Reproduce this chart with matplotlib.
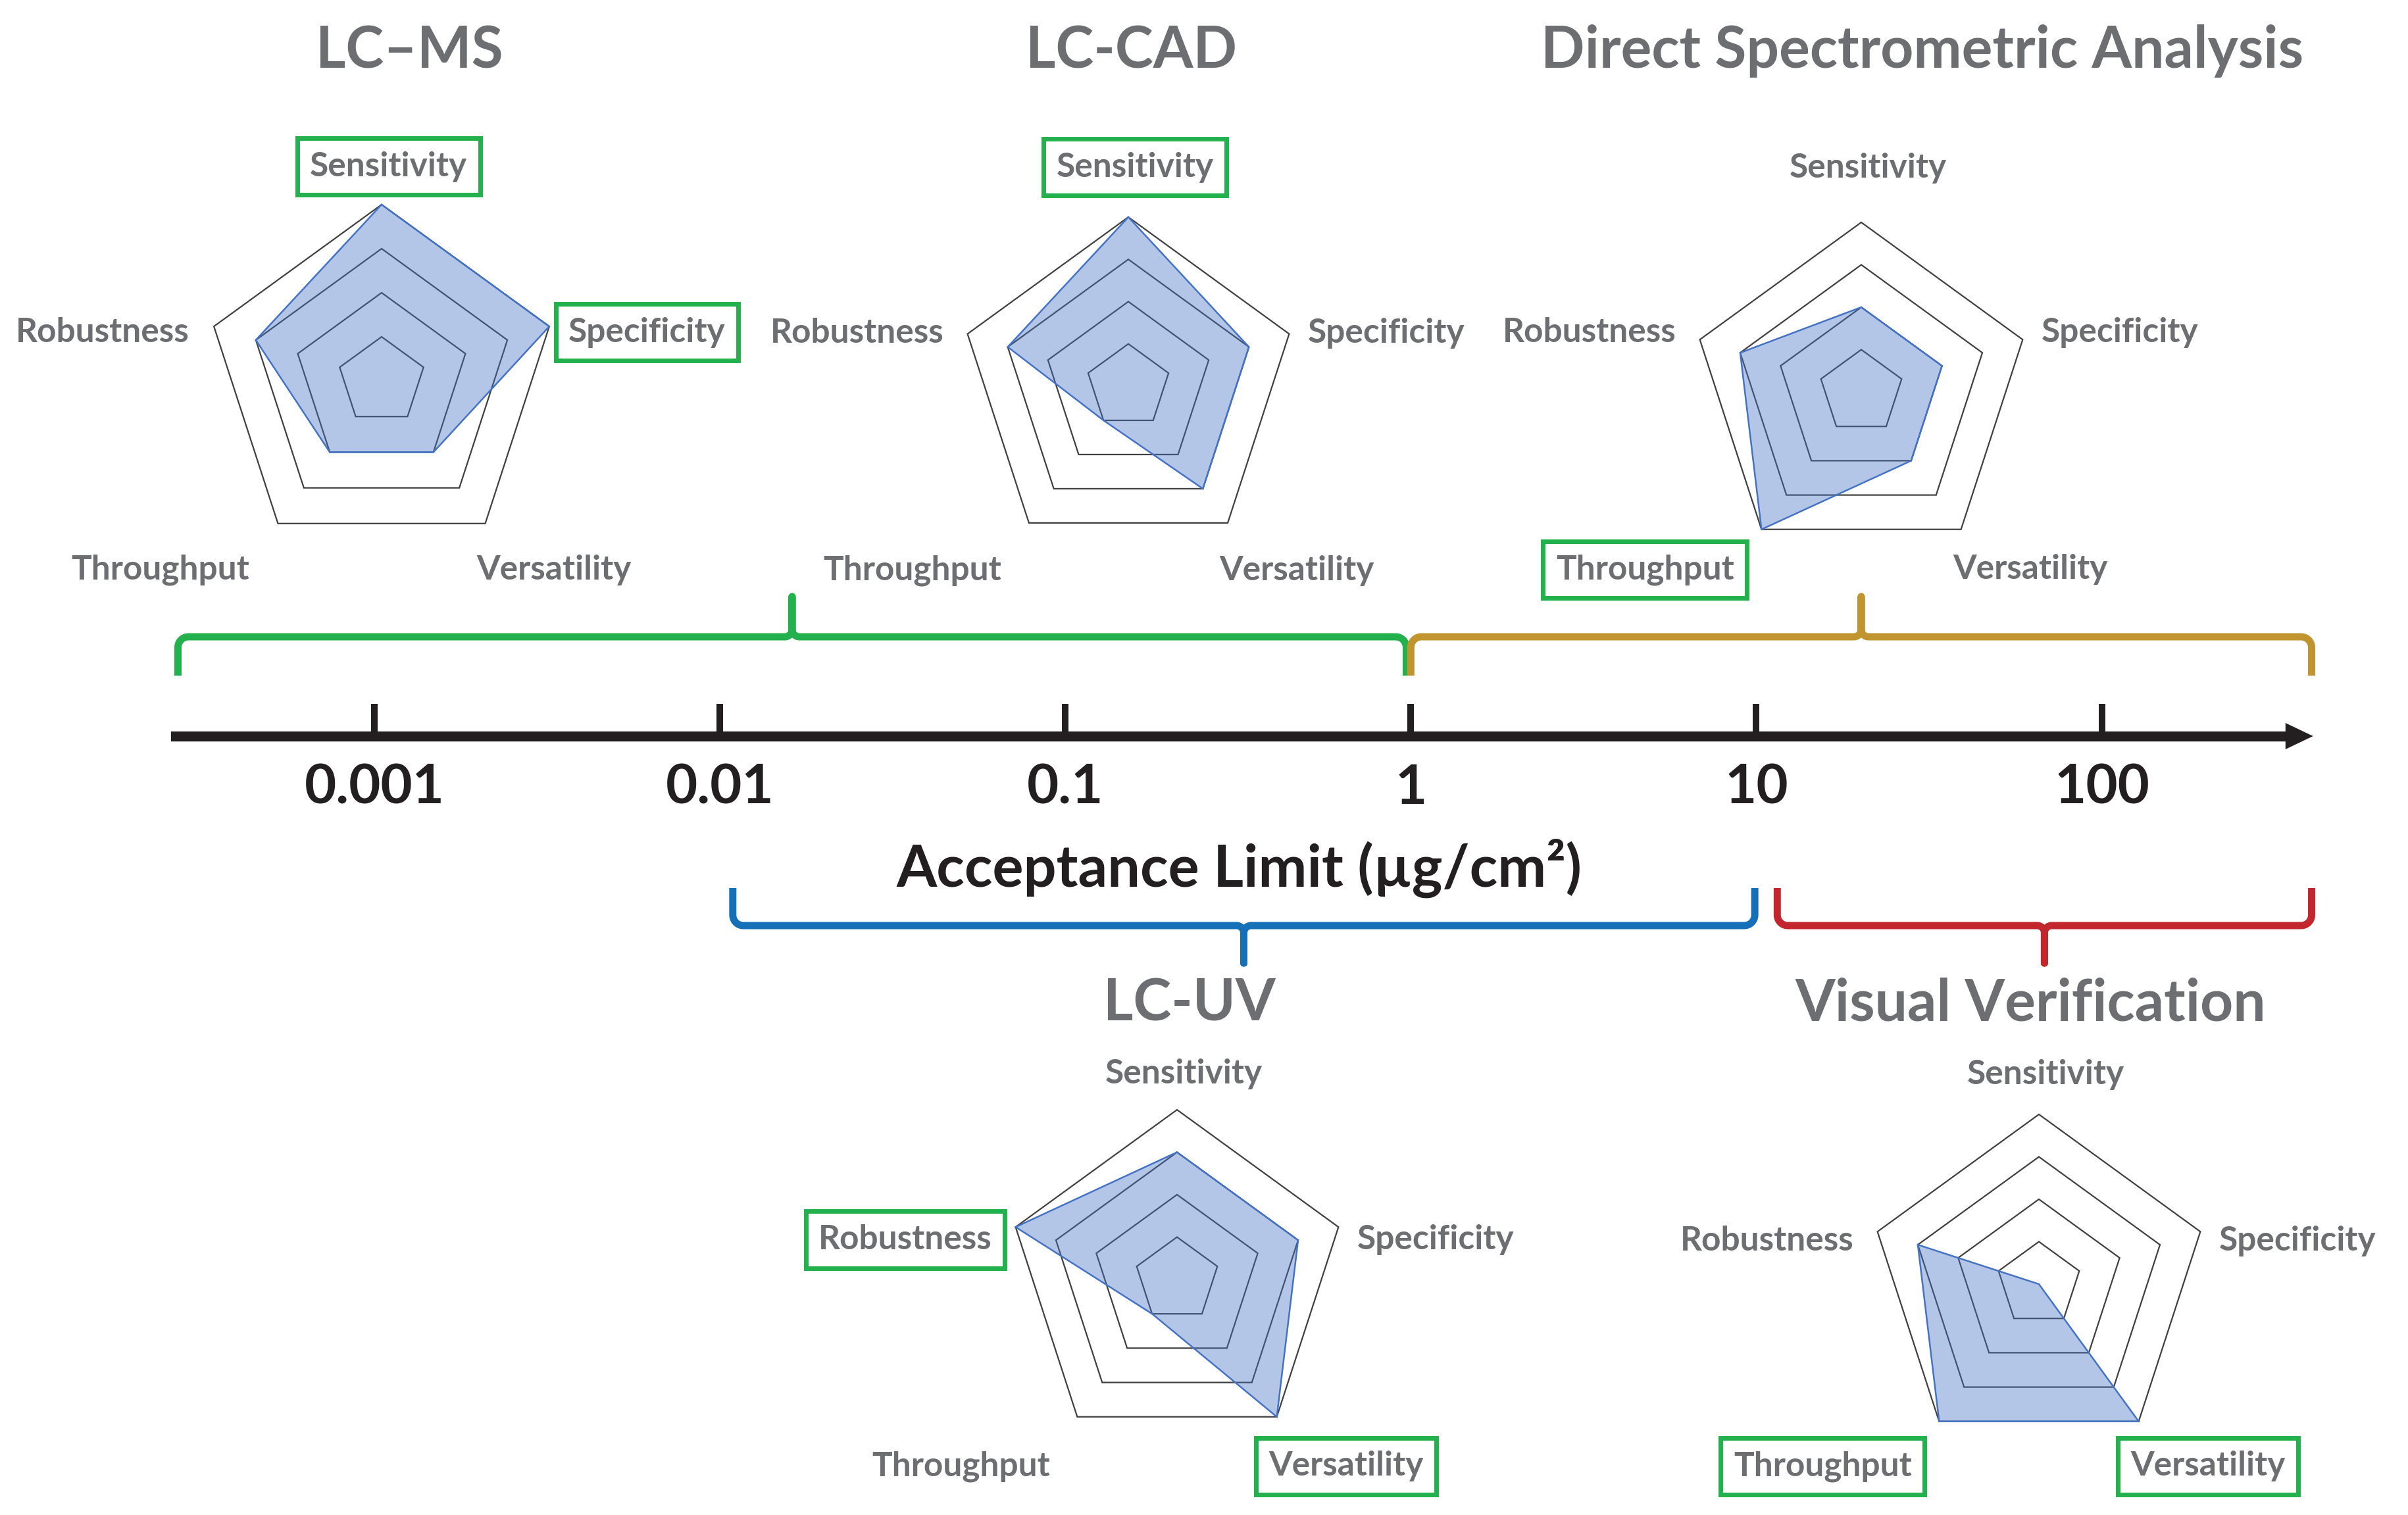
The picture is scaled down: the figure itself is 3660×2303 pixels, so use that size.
import matplotlib.pyplot as plt
import numpy as np

# criteria and scores (0-4)
criteria = ["Sensitivity", "Specificity", "Versatility", "Throughput", "Robustness"]
methods = ["LC\u2013MS", "LC-CAD", "Direct Spectrometric Analysis", "LC-UV", "Visual Verification"]
lc_ms = [4, 4, 2, 2, 3]
lc_cad = [4, 3, 3, 1, 3]
direct = [2, 2, 2, 4, 3]
lc_uv = [3, 3, 4, 1, 4]
visual = [0, 0, 4, 4, 3]
scores = [lc_ms, lc_cad, direct, lc_uv, visual]
highlighted = [
    ["Sensitivity", "Specificity"],
    ["Sensitivity"],
    ["Throughput"],
    ["Robustness", "Versatility"],
    ["Throughput", "Versatility"],
]

# acceptance limit axis (ug/cm2)
tick_values = [0.001, 0.01, 0.1, 1, 10, 100]
tick_labels = ["0.001", "0.01", "0.1", "1", "10", "100"]
axis_start, axis_end = 0.000266, 409
# working ranges of each technique on the axis
range_green = (0.00027, 0.97)   # LC-MS, LC-CAD
range_gold = (1.0, 405)         # direct spectrometric analysis
range_blue = (0.0109, 9.9)      # LC-UV
range_red = (11.5, 405)         # visual verification

GRAY = "#6d6e71"
BLACK = "#231f20"
GREEN = "#22b14c"
GOLD = "#c0952f"
BLUE = "#1570b8"
RED = "#c1272d"
FILL = "#4472c4"
RING = "#404040"

plt.rcParams["font.family"] = ["Lato", "DejaVu Sans"]

W, H = 3660, 2303
fig = plt.figure(figsize=(W / 100, H / 100), dpi=100)

# pixel-space layer for radars and text
ax = fig.add_axes([0, 0, 1, 1])
ax.set_xlim(0, W)
ax.set_ylim(H, 0)
ax.axis("off")

# log-scaled layer for the acceptance limit axis and brackets
xmin, xmax = 10 ** -4.0837, 10 ** 2.8864
DEC = W / (np.log10(xmax) - np.log10(xmin))  # pixels per decade
lax = fig.add_axes([0, 0, 1, 1])
lax.patch.set_visible(False)
lax.set_xscale("log")
lax.set_xlim(xmin, xmax)
lax.set_ylim(H, 0)
for side in ["top", "left", "right"]:
    lax.spines[side].set_visible(False)
lax.yaxis.set_visible(False)

AXIS_Y = 1119
lax.spines["bottom"].set_position(("data", AXIS_Y))
lax.spines["bottom"].set_linewidth(11)
lax.spines["bottom"].set_color(BLACK)
arrow_len = 42
arrow_base = axis_end * 10 ** (-arrow_len / DEC)
lax.spines["bottom"].set_bounds(axis_start, arrow_base + (axis_end - arrow_base) * 0.1)
lax.fill([arrow_base, axis_end, arrow_base], [AXIS_Y - 20, AXIS_Y, AXIS_Y + 20],
         color=BLACK, lw=0)
lax.xaxis.set_minor_locator(plt.NullLocator())
lax.set_xticks(tick_values, tick_labels)
lax.tick_params(axis="x", which="major", direction="in", length=35, width=7.2,
                color=BLACK, labelcolor=BLACK, labelsize=60, pad=30)
for lbl in lax.get_xticklabels():
    lbl.set_fontweight("bold")

ax.text(1883, 1348, "Acceptance Limit (\u00b5g/cm\u00b2)", ha="center", va="baseline",
        fontsize=63.5, fontweight="bold", color=BLACK)


def shift(x, dpx):
    return x * 10 ** (dpx / DEC)


def bracket(x0, x1, y, end_dy, tip_dy, color, rc=16, rt=11):
    e = np.sign(end_dy)
    s = np.sign(tip_dy)
    xm = 10 ** ((np.log10(x0) + np.log10(x1)) / 2)
    t = np.linspace(0, np.pi / 2, 12)
    xs, ys = [x0], [y + end_dy]
    # left rounded corner
    xs += [shift(x0, rc - rc * np.cos(a)) for a in t]
    ys += list(y + e * rc - e * rc * np.sin(t))
    # cusp towards the tip
    xs += [shift(xm, -rt + rt * np.sin(a)) for a in t]
    ys += list(y + s * rt - s * rt * np.cos(t))
    xs += [xm, xm]
    ys += [y + tip_dy, y + s * rt]
    xs += [shift(xm, rt - rt * np.cos(a)) for a in t]
    ys += list(y + s * rt - s * rt * np.sin(t))
    # right rounded corner
    xs += [shift(x1, -rc + rc * np.sin(a)) for a in t]
    ys += list(y + e * rc - e * rc * np.cos(t))
    xs.append(x1)
    ys.append(y + end_dy)
    lax.plot(xs, ys, color=color, lw=7.9, solid_joinstyle="round",
             solid_capstyle="butt", clip_on=False)


bracket(*range_green, 968, 59, -61, GREEN)
bracket(*range_gold, 968, 59, -61, GOLD)
bracket(*range_blue, 1407, -57, 57, BLUE)
bracket(*range_red, 1407, -57, 57, RED)

# radar layout: centre x, centre y, radius (pixels); title baseline position
radar_pos = [(580, 579, 268), (1715, 587, 257), (2829, 596, 258),
             (1789, 1945, 258), (3099, 1952, 258)]
title_pos = [(622, 103), (1720, 103), (2922, 103), (1808, 1551), (3086, 1551)]
# vertical label offsets (radius units) for top, side and bottom labels
label_dy = [(-1.23, -0.29, 1.056), (-1.31, -0.33, 1.075), (-1.335, -0.365, 1.03),
            (-1.225, -0.25, 1.085), (-1.25, -0.27, 1.058)]
angles = np.deg2rad([90, 18, -54, -126, 162])
# horizontal label offsets in radius units and alignment
label_dx = [(0.04, "center", 0), (1.06, "left", 1), (0.54, "left", 2),
            (-0.75, "right", 2), (-1.09, "right", 1)]

for name, vals, hl, (cx, cy, r), (tx, ty), ldy in zip(methods, scores, highlighted,
                                                       radar_pos, title_pos, label_dy):
    ax.text(tx, ty, name, ha="center", va="baseline", fontsize=63,
            fontweight="bold", color=GRAY)
    for lev in [1, 2, 3, 4]:
        ax.fill(cx + lev / 4 * r * np.cos(angles), cy - lev / 4 * r * np.sin(angles),
                fill=False, ec=RING, lw=1.6, joinstyle="miter")
    v = np.array(vals) / 4
    ax.fill(cx + v * r * np.cos(angles), cy - v * r * np.sin(angles),
            fc=(0.267, 0.447, 0.769, 0.4), ec=FILL, lw=1.8)
    for crit, (dx, ha, row) in zip(criteria, label_dx):
        box = None
        if crit in hl:
            box = dict(boxstyle="square,pad=0.38", fc="white", ec=GREEN, lw=5)
        ax.text(cx + dx * r, cy + ldy[row] * r + 18.5, crit, ha=ha, va="baseline",
                fontsize=37, fontweight="bold", color=GRAY, bbox=box)

fig.savefig("out.png", dpi=100)
